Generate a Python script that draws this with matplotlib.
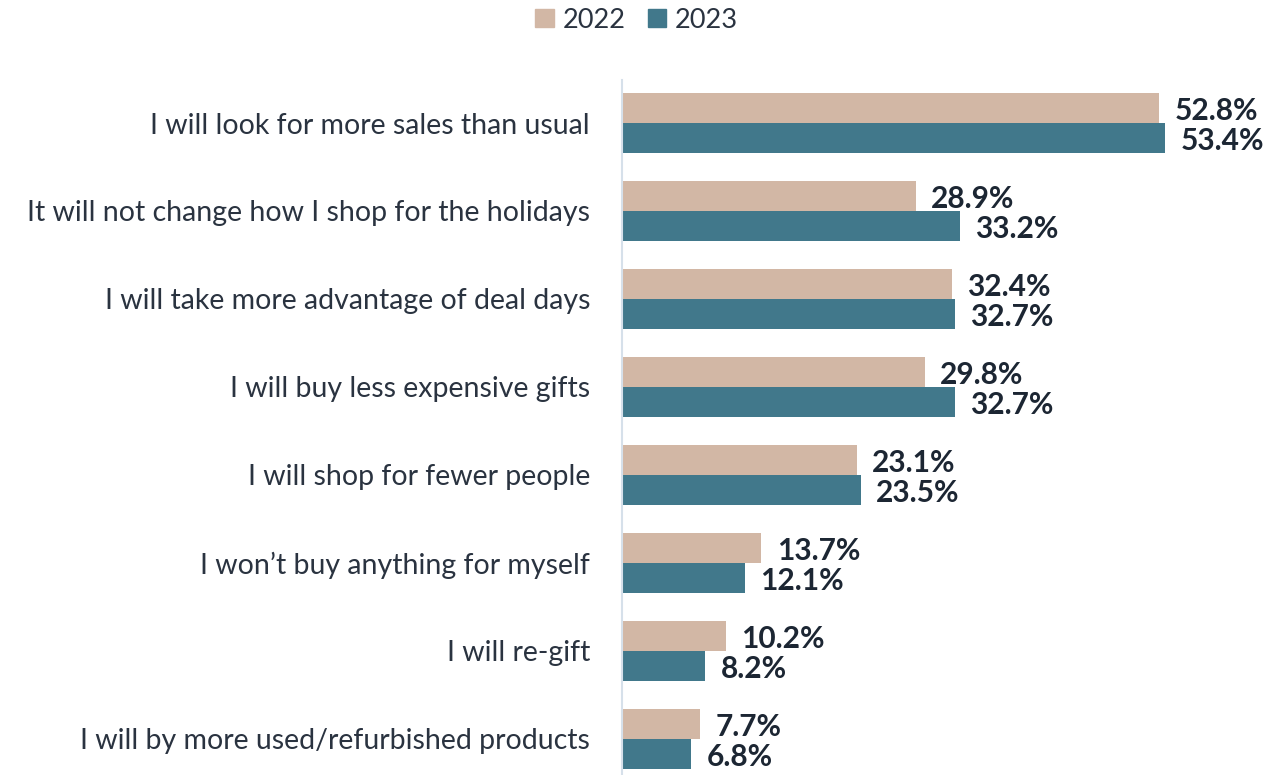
import matplotlib
matplotlib.use("Agg")
import matplotlib.pyplot as plt
import numpy as np
from matplotlib.patches import Patch

categories = [
    "I will look for more sales than usual",
    "It will not change how I shop for the holidays",
    "I will take more advantage of deal days",
    "I will buy less expensive gifts",
    "I will shop for fewer people",
    "I won\u2019t buy anything for myself",
    "I will re-gift",
    "I will by more used/refurbished products",
]
values_2022 = [52.8, 28.9, 32.4, 29.8, 23.1, 13.7, 10.2, 7.7]
values_2023 = [53.4, 33.2, 32.7, 32.7, 23.5, 12.1, 8.2, 6.8]
years = ["2022", "2023"]

COLOR_2022 = "#D2B7A5"
COLOR_2023 = "#41788B"
TEXT_DARK = "#1C2633"
LABEL_COLOR = "#2A3340"

plt.rcParams["font.family"] = ["Lato", "DejaVu Sans"]

fig = plt.figure(figsize=(12.81, 7.75), dpi=100)
# axes placed in pixel terms: left edge at x=622, top at y=80, bottom at 775
ax = fig.add_axes([622 / 1281, 0, 659 / 1281, 695 / 775])

y = np.arange(len(categories))
bar_h = 30 / 88

ax.barh(y - bar_h / 2, values_2022, height=bar_h, color=COLOR_2022, label=years[0])
ax.barh(y + bar_h / 2, values_2023, height=bar_h, color=COLOR_2023, label=years[1])

ax.set_xlim(0, 659 / 10.17)
ax.set_ylim((775 - 123) / 88, (80 - 123) / 88)

for vals, offs in ((values_2022, -bar_h / 2), (values_2023, bar_h / 2)):
    for i, v in enumerate(vals):
        ax.annotate(f"{v:.1f}%", xy=(v, i + offs + 0.03), xytext=(11, 0),
                    textcoords="offset points", va="center", ha="left",
                    fontsize=21.5, fontweight="bold", color=TEXT_DARK)

ax.set_yticks(y)
ax.set_yticklabels(categories, fontsize=20.5, fontweight="normal", color=LABEL_COLOR)
ax.tick_params(axis="y", length=0, pad=23)
ax.set_xticks([])

for s in ("top", "right", "bottom"):
    ax.spines[s].set_visible(False)
ax.spines["left"].set_color("#D6E0EA")
ax.spines["left"].set_linewidth(1.5)

handles = [Patch(color=COLOR_2022), Patch(color=COLOR_2023)]
fig.legend(handles, years, loc="center", bbox_to_anchor=(0.497, 1 - 20 / 775),
           ncol=2, frameon=False, handlelength=0.68, handleheight=0.68,
           handletextpad=0.32, columnspacing=0.83,
           prop={"size": 19.5, "weight": "normal"}, labelcolor=LABEL_COLOR)

fig.savefig("out.png", dpi=100)
